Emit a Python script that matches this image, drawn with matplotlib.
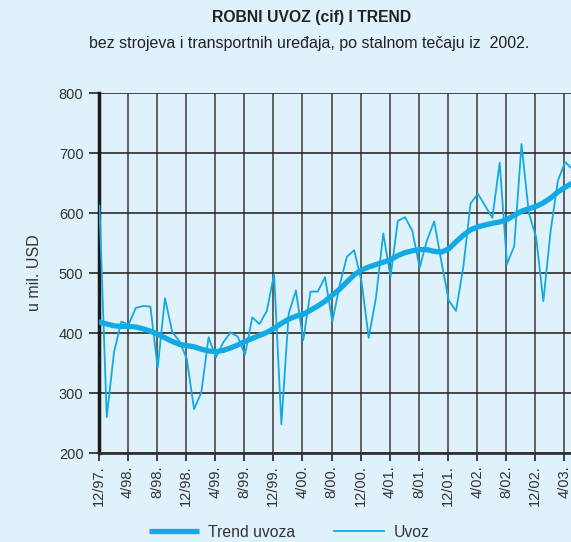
import numpy as np
import matplotlib.pyplot as plt

plt.rcParams['font.family'] = ['Liberation Sans', 'DejaVu Sans']

# monthly imports (cif), 11/97 - 5/03, mil. USD
uvoz = [428, 613, 260, 368, 419, 414, 442, 445, 444, 342, 458, 402, 386, 357,
        273, 301, 393, 359, 384, 401, 394, 364, 426, 415, 437, 498, 248, 432,
        471, 388, 469, 469, 493, 419, 479, 527, 538, 487, 392, 459, 566, 494,
        587, 593, 570, 509, 554, 586, 518, 454, 437, 510, 616, 632, 612, 592,
        684, 515, 545, 715, 600, 560, 453, 570, 654, 685, 673]

trend = [421, 418, 415, 412, 411, 411, 410, 407, 403, 398, 392, 386, 381, 379,
         377, 373, 370, 369, 371, 375, 380, 386, 391, 396, 401, 408, 416, 423,
         428, 431, 438, 445, 453, 463, 473, 485, 497, 505, 510, 514, 518, 522,
         529, 534, 537, 539, 539, 536, 535, 540, 552, 563, 572, 577, 580, 583,
         585, 589, 596, 603, 607, 611, 617, 625, 635, 643, 650]

tick_labels = ['12/97.', '4/98.', '8/98.', '12/98.', '4/99.', '8/99.', '12/99.',
               '4/00.', '8/00.', '12/00.', '4/01.', '8/01.', '12/01.', '4/02.',
               '8/02.', '12/02.', '4/03.']

bg = '#dff1fb'
blue = '#12aae4'
txt = '#333333'

months = np.arange(len(uvoz)) - 1 + 0.1

fig = plt.figure(figsize=(5.71, 5.42), dpi=100, facecolor=bg)
ax = fig.add_axes([0.1729, 0.1642, 0.8271, 0.6642], facecolor=bg)

ax.plot(months, trend, color=blue, lw=3.8, solid_capstyle='butt', label='Trend uvoza', zorder=3)
ax.plot(months, uvoz, color=blue, lw=1.3, label='Uvoz', zorder=4)

ax.set_xlim(0, 64.9)
ax.set_ylim(200, 800)

ax.set_yticks(np.arange(200, 801, 100))
ax.set_xticks(np.arange(0, 4 * len(tick_labels), 4))
ax.set_xticklabels(tick_labels, rotation=90)
ax.tick_params(axis='y', labelsize=10.5, labelcolor=txt, length=7, width=1.2,
               color='#222222', pad=4)
ax.tick_params(axis='x', labelsize=10.5, labelcolor=txt, length=6, width=1.2,
               color='#222222', pad=3)

ax.grid(axis='y', color='#2b2b2b', lw=1.2)
ax.grid(axis='x', color='#555555', lw=1.3)
ax.set_axisbelow(True)

for s in ['top', 'right']:
    ax.spines[s].set_visible(False)
ax.spines['left'].set_linewidth(2.5)
ax.spines['left'].set_color('#1a1a1a')
ax.spines['bottom'].set_linewidth(2)
ax.spines['bottom'].set_color('#333333')

ax.set_ylabel('u mil. USD', fontsize=11.5, color=txt)
ax.yaxis.set_label_coords(-0.12, 0.5)

fig.text(0.545, 0.967, 'ROBNI UVOZ (cif) I TREND', ha='center', va='center',
         fontsize=11.3, fontweight='bold', color='#222222')
fig.text(0.542, 0.919, 'bez strojeva i transportnih uređaja, po stalnom tečaju iz  2002.',
         ha='center', va='center', fontsize=11.5, color='#222222')

leg = fig.legend(loc='center', bbox_to_anchor=(0.506, 0.018), ncol=2, frameon=False,
                 fontsize=11.3, handlelength=3.2, columnspacing=2.5, handletextpad=0.57)
for t in leg.get_texts():
    t.set_color(txt)

fig.savefig('out.png', dpi=100, facecolor=bg)
